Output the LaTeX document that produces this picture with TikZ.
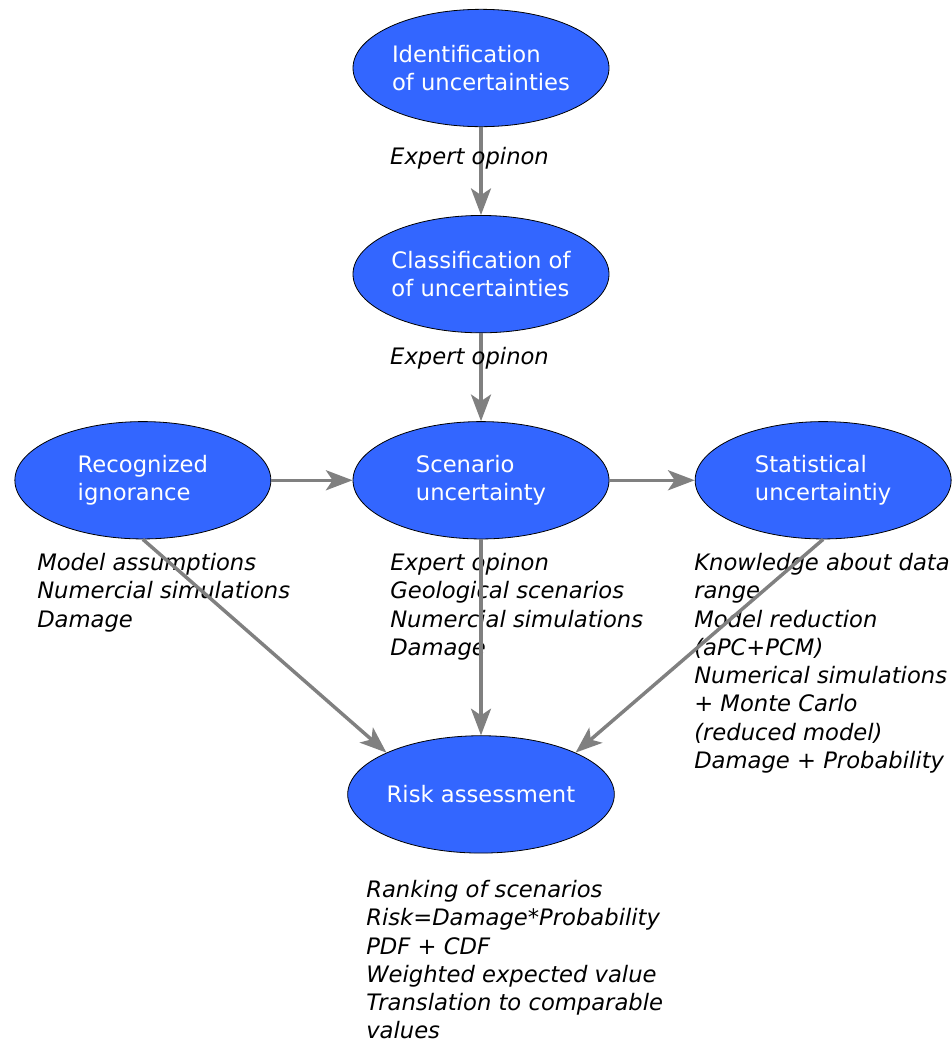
\documentclass[tikz,border=0pt]{standalone}
\usepackage{fontspec}
\setmainfont{DejaVu Sans}
\usetikzlibrary{arrows.meta, positioning, shapes.geometric}
\definecolor{nodeblue}{HTML}{3366FF}
\definecolor{flowgray}{HTML}{808080}
\newcommand{\diagfont}{\fontsize{17pt}{21.2pt}\selectfont}

\begin{document}
\begin{tikzpicture}[
    x=0.75pt, y=-0.75pt,
    node/.style={ellipse, draw, fill=nodeblue, text=white, align=left, font=\diagfont,
      minimum width=192pt, minimum height=88pt, inner sep=0pt, line width=0.6pt},
    info/.style={anchor=north west, align=left, inner sep=0pt, font=\diagfont\itshape},
    lbl/.style={inner sep=0pt, font=\diagfont\itshape},
    flow/.style={-{Stealth[length=20pt, width=15pt, inset=5pt]}, draw=flowgray, line width=2.6pt}
    ]
    \useasboundingbox (0,0) rectangle (952,1043);

    \node[node] (ident) at (481,68) {Identification\\of uncertainties};
    \node[node, below=66pt of ident] (class) {Classification of\\of uncertainties};
    \node[node, below=66pt of class] (scen) {Scenario\\uncertainty};
    \node[node, left=61pt of scen] (rec) {Recognized\\ignorance};
    \node[node, right=64pt of scen] (stat) {Statistical\\uncertaintiy};
    \node[node, below=147pt of scen] (risk) {Risk assessment};

    \node[info] (recinfo) at (37,553) {Model assumptions\\Numercial simulations\\Damage};
    \node[info] (sceninfo) at (390,553) {Expert opinon\\Geological scenarios\\Numercial simulations\\Damage};
    \node[info] (statinfo) at (694,553) {Knowledge about data\\range\\Model reduction\\(aPC+PCM)\\Numerical simulations\\+ Monte Carlo\\(reduced model)\\Damage + Probability};
    \node[info] (riskinfo) at (366,880) {Ranking of scenarios\\Risk=Damage*Probability\\PDF + CDF\\Weighted expected value\\Translation to comparable\\values};

    \draw[flow] (ident) -- node[lbl, pos=0.35, xshift=-8.6pt] {Expert opinon} (class);
    \draw[flow] (class) -- node[lbl, pos=0.29, xshift=-8.6pt] {Expert opinon} (scen);

    \draw[flow] (rec) -- (scen);
    \draw[flow] (scen) -- (stat);

    \draw[flow] (rec.south) -- (risk.north west);
    \draw[flow] (scen) -- (risk);
    \draw[flow] (stat.south) -- (risk.north east);
  \end{tikzpicture}
\end{document}
